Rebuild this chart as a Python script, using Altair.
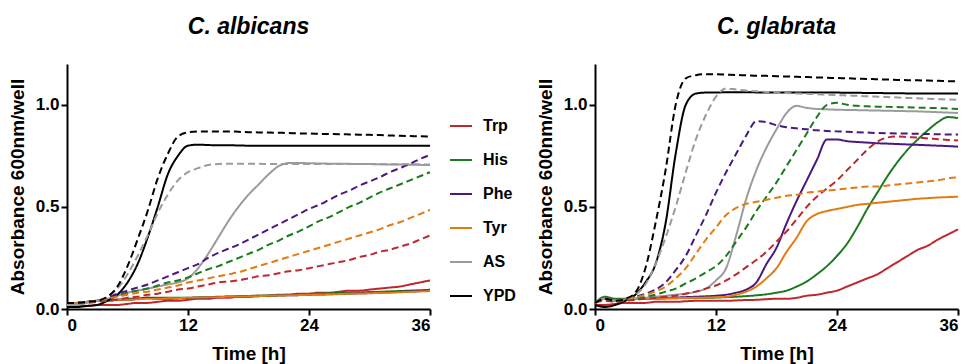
import altair as alt
import pandas as pd

TIME = list(range(37))
NUTRIENTS = ["Trp", "His", "Phe", "Tyr", "AS", "YPD"]
COLORS = ["#c0272d", "#1b7a1e", "#4b1780", "#e27b12", "#9b9b9b", "#000000"]
X_TICKS = [0, 12, 24, 36]
Y_TICKS = [0.0, 0.5, 1.0]
PANEL_TITLES = ["C. albicans", "C. glabrata"]

# ---- C. albicans, solid lines ----
ALB_TRP_SOLID = [0.02, 0.015, 0.015, 0.02, 0.02, 0.02, 0.025, 0.03, 0.03, 0.035, 0.04, 0.04, 0.045, 0.05, 0.05, 0.055, 0.055, 0.06, 0.06, 0.065, 0.065, 0.07, 0.07, 0.075, 0.075, 0.08, 0.08, 0.085, 0.09, 0.09, 0.095, 0.10, 0.105, 0.11, 0.12, 0.13, 0.14]
ALB_HIS_SOLID = [0.03, 0.03, 0.035, 0.04, 0.045, 0.045, 0.05, 0.05, 0.055, 0.055, 0.055, 0.055, 0.055, 0.057, 0.058, 0.06, 0.061, 0.062, 0.064, 0.065, 0.067, 0.068, 0.07, 0.072, 0.074, 0.075, 0.077, 0.078, 0.08, 0.081, 0.083, 0.084, 0.086, 0.088, 0.09, 0.092, 0.094]
ALB_PHE_SOLID = [0.025, 0.03, 0.035, 0.04, 0.04, 0.045, 0.045, 0.05, 0.055, 0.05, 0.05, 0.052, 0.054, 0.055, 0.056, 0.058, 0.06, 0.061, 0.062, 0.063, 0.064, 0.066, 0.067, 0.068, 0.07, 0.071, 0.072, 0.074, 0.075, 0.077, 0.078, 0.08, 0.082, 0.084, 0.086, 0.088, 0.09]
ALB_TYR_SOLID = [0.03, 0.03, 0.035, 0.04, 0.04, 0.045, 0.045, 0.048, 0.05, 0.05, 0.052, 0.053, 0.055, 0.056, 0.057, 0.058, 0.06, 0.061, 0.062, 0.063, 0.065, 0.066, 0.067, 0.068, 0.07, 0.071, 0.072, 0.073, 0.075, 0.076, 0.077, 0.079, 0.08, 0.082, 0.084, 0.086, 0.088]
ALB_AS_SOLID = [0.02, 0.02, 0.03, 0.04, 0.05, 0.065, 0.08, 0.09, 0.10, 0.11, 0.12, 0.13, 0.15, 0.20, 0.27, 0.35, 0.43, 0.50, 0.56, 0.61, 0.66, 0.70, 0.715, 0.715, 0.714, 0.713, 0.712, 0.712, 0.711, 0.71, 0.71, 0.709, 0.708, 0.708, 0.707, 0.706, 0.705]
ALB_YPD_SOLID = [0.01, 0.01, 0.015, 0.02, 0.04, 0.07, 0.13, 0.22, 0.35, 0.50, 0.66, 0.75, 0.80, 0.805, 0.803, 0.802, 0.802, 0.801, 0.80, 0.80, 0.80, 0.80, 0.80, 0.80, 0.80, 0.80, 0.80, 0.80, 0.80, 0.80, 0.80, 0.80, 0.80, 0.80, 0.80, 0.80, 0.80]

# ---- C. albicans, dashed lines ----
ALB_TRP_DASH = [0.03, 0.03, 0.03, 0.035, 0.04, 0.045, 0.055, 0.06, 0.07, 0.075, 0.085, 0.095, 0.10, 0.11, 0.12, 0.13, 0.135, 0.14, 0.15, 0.16, 0.165, 0.175, 0.185, 0.19, 0.20, 0.21, 0.22, 0.23, 0.24, 0.255, 0.265, 0.28, 0.29, 0.305, 0.32, 0.34, 0.36]
ALB_HIS_DASH = [0.03, 0.03, 0.035, 0.04, 0.05, 0.065, 0.08, 0.09, 0.10, 0.115, 0.13, 0.14, 0.155, 0.175, 0.195, 0.21, 0.23, 0.25, 0.27, 0.29, 0.315, 0.335, 0.36, 0.38, 0.405, 0.43, 0.45, 0.475, 0.50, 0.52, 0.545, 0.57, 0.59, 0.61, 0.63, 0.65, 0.67]
ALB_PHE_DASH = [0.03, 0.03, 0.035, 0.04, 0.055, 0.075, 0.09, 0.105, 0.12, 0.14, 0.16, 0.18, 0.20, 0.22, 0.25, 0.275, 0.295, 0.315, 0.34, 0.365, 0.39, 0.415, 0.44, 0.465, 0.49, 0.51, 0.535, 0.56, 0.58, 0.605, 0.625, 0.645, 0.67, 0.69, 0.71, 0.735, 0.755]
ALB_TYR_DASH = [0.03, 0.03, 0.035, 0.04, 0.05, 0.06, 0.07, 0.08, 0.085, 0.095, 0.105, 0.115, 0.13, 0.14, 0.15, 0.16, 0.17, 0.18, 0.195, 0.21, 0.225, 0.24, 0.255, 0.27, 0.285, 0.30, 0.315, 0.33, 0.345, 0.36, 0.375, 0.39, 0.41, 0.425, 0.445, 0.465, 0.485]
ALB_AS_DASH = [0.03, 0.03, 0.035, 0.04, 0.06, 0.10, 0.17, 0.26, 0.36, 0.47, 0.56, 0.63, 0.67, 0.69, 0.705, 0.71, 0.712, 0.712, 0.711, 0.711, 0.71, 0.71, 0.71, 0.71, 0.71, 0.71, 0.71, 0.71, 0.71, 0.71, 0.71, 0.709, 0.709, 0.709, 0.709, 0.708, 0.708]
ALB_YPD_DASH = [0.03, 0.03, 0.035, 0.04, 0.06, 0.11, 0.21, 0.34, 0.48, 0.64, 0.76, 0.845, 0.865, 0.87, 0.87, 0.87, 0.87, 0.868, 0.866, 0.865, 0.864, 0.863, 0.862, 0.86, 0.86, 0.858, 0.857, 0.856, 0.855, 0.854, 0.853, 0.852, 0.85, 0.848, 0.847, 0.846, 0.845]

# ---- C. glabrata, solid lines ----
GLA_TRP_SOLID = [0.02, 0.02, 0.025, 0.03, 0.03, 0.03, 0.035, 0.035, 0.035, 0.038, 0.04, 0.04, 0.04, 0.04, 0.042, 0.044, 0.045, 0.048, 0.05, 0.05, 0.055, 0.065, 0.07, 0.08, 0.09, 0.11, 0.13, 0.15, 0.17, 0.20, 0.23, 0.26, 0.29, 0.31, 0.34, 0.365, 0.39]
GLA_HIS_SOLID = [0.03, 0.06, 0.05, 0.05, 0.05, 0.05, 0.05, 0.052, 0.053, 0.054, 0.055, 0.055, 0.056, 0.058, 0.06, 0.063, 0.067, 0.072, 0.08, 0.09, 0.11, 0.135, 0.17, 0.21, 0.26, 0.32, 0.40, 0.49, 0.57, 0.65, 0.72, 0.78, 0.83, 0.875, 0.915, 0.94, 0.935]
GLA_PHE_SOLID = [0.03, 0.05, 0.04, 0.045, 0.05, 0.05, 0.055, 0.055, 0.056, 0.058, 0.06, 0.062, 0.065, 0.07, 0.08, 0.095, 0.13, 0.22, 0.30, 0.42, 0.53, 0.63, 0.73, 0.83, 0.83, 0.822, 0.818, 0.815, 0.812, 0.81, 0.808, 0.806, 0.804, 0.802, 0.80, 0.798, 0.795]
GLA_TYR_SOLID = [0.03, 0.05, 0.04, 0.045, 0.05, 0.05, 0.05, 0.052, 0.053, 0.054, 0.055, 0.056, 0.058, 0.06, 0.07, 0.085, 0.11, 0.15, 0.20, 0.28, 0.35, 0.43, 0.465, 0.48, 0.49, 0.50, 0.51, 0.515, 0.52, 0.525, 0.53, 0.535, 0.54, 0.543, 0.546, 0.548, 0.55]
GLA_AS_SOLID = [0.03, 0.05, 0.04, 0.045, 0.05, 0.055, 0.06, 0.065, 0.07, 0.075, 0.085, 0.10, 0.14, 0.20, 0.36, 0.54, 0.68, 0.79, 0.88, 0.96, 0.995, 0.985, 0.98, 0.978, 0.976, 0.975, 0.974, 0.973, 0.972, 0.971, 0.97, 0.969, 0.968, 0.966, 0.964, 0.962, 0.96]
GLA_YPD_SOLID = [0.02, 0.01, 0.02, 0.04, 0.07, 0.13, 0.22, 0.42, 0.76, 1.00, 1.055, 1.06, 1.06, 1.062, 1.062, 1.062, 1.061, 1.061, 1.06, 1.06, 1.06, 1.06, 1.06, 1.06, 1.06, 1.059, 1.059, 1.058, 1.058, 1.057, 1.057, 1.056, 1.056, 1.056, 1.055, 1.055, 1.055]

# ---- C. glabrata, dashed lines ----
GLA_TRP_DASH = [0.03, 0.04, 0.035, 0.04, 0.045, 0.05, 0.055, 0.06, 0.065, 0.075, 0.085, 0.10, 0.115, 0.14, 0.17, 0.205, 0.24, 0.28, 0.33, 0.38, 0.44, 0.50, 0.55, 0.59, 0.63, 0.68, 0.73, 0.78, 0.82, 0.84, 0.845, 0.842, 0.84, 0.835, 0.832, 0.828, 0.825]
GLA_HIS_DASH = [0.03, 0.05, 0.04, 0.045, 0.05, 0.06, 0.07, 0.085, 0.10, 0.125, 0.15, 0.18, 0.21, 0.26, 0.33, 0.40, 0.48, 0.55, 0.62, 0.70, 0.78, 0.86, 0.94, 1.0, 1.01, 1.0, 0.995, 0.993, 0.991, 0.99, 0.989, 0.988, 0.986, 0.985, 0.984, 0.982, 0.98]
GLA_PHE_DASH = [0.03, 0.05, 0.04, 0.05, 0.06, 0.075, 0.095, 0.13, 0.19, 0.26, 0.36, 0.46, 0.57, 0.67, 0.76, 0.85, 0.92, 0.915, 0.90, 0.89, 0.885, 0.88, 0.875, 0.872, 0.87, 0.868, 0.866, 0.864, 0.862, 0.861, 0.86, 0.859, 0.858, 0.857, 0.856, 0.855, 0.855]
GLA_TYR_DASH = [0.03, 0.05, 0.04, 0.05, 0.055, 0.07, 0.085, 0.11, 0.15, 0.20, 0.27, 0.34, 0.40, 0.46, 0.495, 0.515, 0.525, 0.535, 0.545, 0.555, 0.56, 0.57, 0.575, 0.58, 0.585, 0.59, 0.595, 0.60, 0.60, 0.605, 0.61, 0.615, 0.62, 0.625, 0.63, 0.64, 0.645]
GLA_AS_DASH = [0.03, 0.05, 0.04, 0.05, 0.07, 0.12, 0.22, 0.35, 0.50, 0.67, 0.83, 0.95, 1.04, 1.08, 1.075, 1.07, 1.066, 1.063, 1.06, 1.058, 1.056, 1.054, 1.052, 1.05, 1.048, 1.046, 1.044, 1.042, 1.04, 1.038, 1.036, 1.034, 1.032, 1.03, 1.028, 1.026, 1.025]
GLA_YPD_DASH = [0.03, 0.05, 0.04, 0.05, 0.08, 0.20, 0.42, 0.68, 1.00, 1.13, 1.145, 1.15, 1.15, 1.148, 1.146, 1.145, 1.143, 1.142, 1.14, 1.139, 1.137, 1.136, 1.134, 1.133, 1.131, 1.13, 1.128, 1.127, 1.125, 1.124, 1.122, 1.121, 1.12, 1.119, 1.118, 1.116, 1.115]

ALB_SOLID = [ALB_TRP_SOLID, ALB_HIS_SOLID, ALB_PHE_SOLID, ALB_TYR_SOLID, ALB_AS_SOLID, ALB_YPD_SOLID]
ALB_DASH = [ALB_TRP_DASH, ALB_HIS_DASH, ALB_PHE_DASH, ALB_TYR_DASH, ALB_AS_DASH, ALB_YPD_DASH]
GLA_SOLID = [GLA_TRP_SOLID, GLA_HIS_SOLID, GLA_PHE_SOLID, GLA_TYR_SOLID, GLA_AS_SOLID, GLA_YPD_SOLID]
GLA_DASH = [GLA_TRP_DASH, GLA_HIS_DASH, GLA_PHE_DASH, GLA_TYR_DASH, GLA_AS_DASH, GLA_YPD_DASH]


def build_frame(solid_lists, dash_lists):
    rows = []
    for cond, lists in (("solid", solid_lists), ("dashed", dash_lists)):
        for name, vals in zip(NUTRIENTS, lists):
            assert len(vals) == len(TIME), (name, cond, len(vals))
            for t, v in zip(TIME, vals):
                rows.append({"nutrient": name, "cond": cond, "series": name + "_" + cond, "time": t, "value": v})
    return pd.DataFrame(rows)


FONT = "Liberation Sans"
color_scale = alt.Scale(domain=NUTRIENTS, range=COLORS)


def panel(df, title):
    return alt.Chart(df).mark_line(strokeWidth=2, interpolate="monotone").encode(
        x=alt.X("time:Q", scale=alt.Scale(domain=[0, 36], nice=False),
                axis=alt.Axis(values=X_TICKS, title="Time [h]", titlePadding=11)),
        y=alt.Y("value:Q", scale=alt.Scale(domain=[0, 1.2], nice=False),
                axis=alt.Axis(values=Y_TICKS, format=".1f", title="Absorbance 600nm/well", titlePadding=8)),
        color=alt.Color("nutrient:N", scale=color_scale, legend=None),
        strokeDash=alt.StrokeDash("cond:N", scale=alt.Scale(domain=["solid", "dashed"], range=[[1, 0], [7, 4]]), legend=None),
        detail="series:N",
    ).properties(
        width=363, height=245,
        title=alt.TitleParams(title, font=FONT, fontSize=23, fontWeight="bold", fontStyle="italic", color="black", offset=25),
    )


left = panel(build_frame(ALB_SOLID, ALB_DASH), PANEL_TITLES[0])
right = panel(build_frame(GLA_SOLID, GLA_DASH), PANEL_TITLES[1])

leg_df = pd.DataFrame({"nutrient": NUTRIENTS})
leg_y = alt.Y("nutrient:N", sort=NUTRIENTS, axis=None, scale=alt.Scale(range=[45, 249]))
leg_lines = alt.Chart(leg_df).mark_rule(strokeWidth=2).encode(
    x=alt.value(6), x2=alt.value(28), y=leg_y,
    color=alt.Color("nutrient:N", scale=color_scale, legend=None),
)
leg_text = alt.Chart(leg_df).mark_text(align="left", baseline="middle", font=FONT, fontSize=16, fontWeight="bold", color="black").encode(
    x=alt.value(39), y=leg_y, text="nutrient:N",
)
legend = (leg_lines + leg_text).properties(width=82, height=300)

chart = alt.hconcat(left, legend, right, spacing=10).properties(
    padding={"left": 0, "top": 8, "right": 0, "bottom": 0},
).configure_view(stroke=None).configure_axis(
    grid=False, domainColor="black", domainWidth=2, tickColor="black", tickWidth=2, tickSize=6,
    labelFont=FONT, labelFontSize=17, labelFontWeight="bold", labelColor="black", labelPadding=2,
    titleFont=FONT, titleFontSize=19, titleFontWeight="bold", titleColor="black",
)

chart.save("out.html", embed_options={"renderer": "svg", "actions": False})
